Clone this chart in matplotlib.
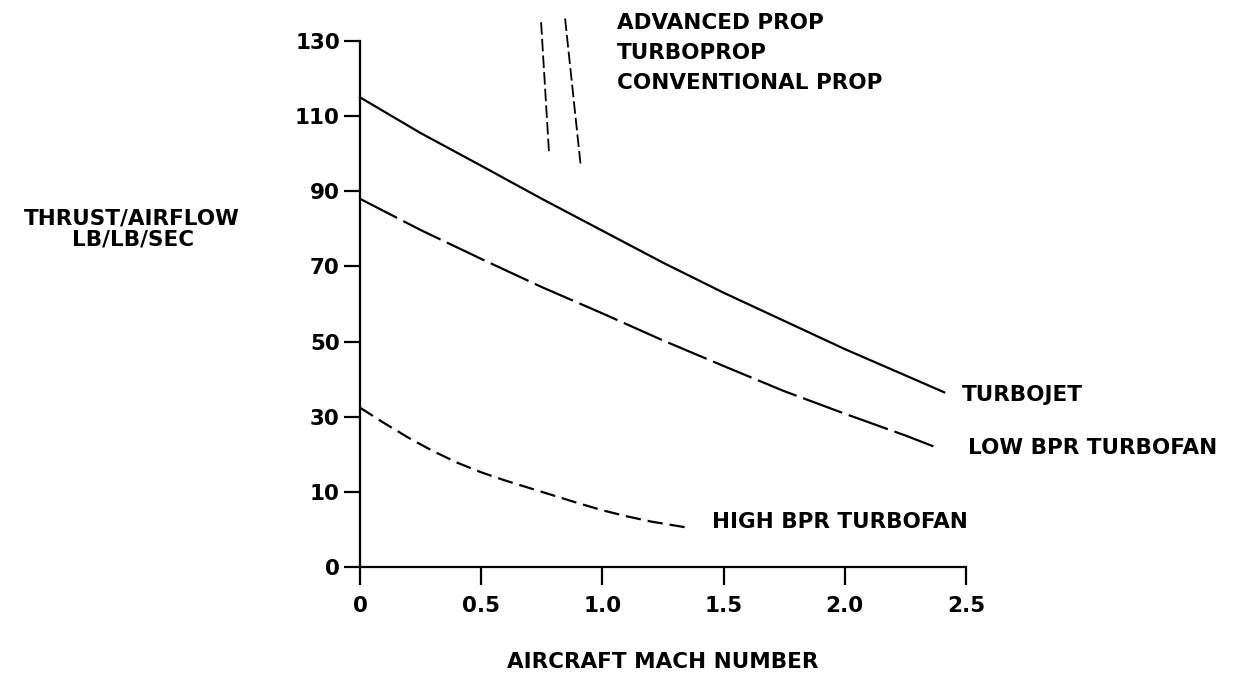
import matplotlib
matplotlib.use("Agg")
import matplotlib.pyplot as plt
import numpy as np

# Valores (empuxo / vazão de ar, lb/lb/s) vs número de Mach
mach_turbojet = [0.0, 0.25, 0.5, 0.75, 1.0, 1.25, 1.5, 1.75, 2.0, 2.25, 2.41]
thrust_turbojet = [115, 105.5, 96.8, 88, 79.5, 71, 63, 55.5, 48, 41, 36.5]

mach_low_bpr = [0.0, 0.25, 0.5, 0.75, 1.0, 1.25, 1.5, 1.75, 2.0, 2.25, 2.37]
thrust_low_bpr = [88, 79.7, 72, 64.5, 57.5, 50.3, 43.5, 36.8, 30.8, 25, 22]

mach_high_bpr = [0.0, 0.1, 0.2, 0.3, 0.4, 0.5, 0.6, 0.7, 0.8, 0.9, 1.0,
                 1.1, 1.2, 1.34]
thrust_high_bpr = [32.4, 28.3, 24.4, 20.9, 17.8, 15.2, 13.0, 11.0, 9.5, 8.5,
                   7.55, 6.75, 6.05, 5.3]

# Linhas verticais tracejadas dos hélices
mach_prop1 = [0.747, 0.78]
thrust_prop1 = [135, 100]
mach_prop2 = [0.846, 0.911]
thrust_prop2 = [136, 96.5]

y_ticks = [0, 10, 30, 50, 70, 90, 110, 130]
x_ticks = [0, 0.5, 1.0, 1.5, 2.0, 2.5]
x_tick_labels = ["0", "0.5", "1.0", "1.5", "2.0", "2.5"]


# Eixo y não linear: 0-10 ocupa o mesmo espaço que 10-30
def fwd(v):
    v = np.asarray(v, dtype=float)
    return np.where(v < 10, v / 10.0, 1 + (v - 10) / 20.0)


def inv(p):
    p = np.asarray(p, dtype=float)
    return np.where(p < 1, p * 10.0, 10 + (p - 1) * 20.0)


plt.rcParams["font.family"] = "DejaVu Sans"
plt.rcParams["font.weight"] = "bold"
plt.rcParams["lines.scale_dashes"] = False

FS = 15.5
W, H = 1256, 688
fig = plt.figure(figsize=(W / 100, H / 100), dpi=100)
ax = fig.add_axes([360 / W, 1 - 567 / H, (966 - 360) / W, (567 - 41) / H])

ax.set_yscale("function", functions=(fwd, inv))
ax.set_xlim(0, 2.5)
ax.set_ylim(0, 130)

lw = 1.6
ax.plot(mach_turbojet, thrust_turbojet, color="black", lw=lw, clip_on=False)
ax.plot(mach_low_bpr, thrust_low_bpr, color="black", lw=lw,
        dashes=(30, 5), clip_on=False)
ax.plot(mach_high_bpr, thrust_high_bpr, color="black", lw=lw,
        dashes=(11, 5), clip_on=False)
ax.plot(mach_prop1, thrust_prop1, color="black", lw=1.3,
        dashes=(9, 3), clip_on=False)
ax.plot(mach_prop2, thrust_prop2, color="black", lw=1.3,
        dashes=(9, 3), clip_on=False)

ax.spines["top"].set_visible(False)
ax.spines["right"].set_visible(False)
ax.spines["left"].set_linewidth(1.6)
ax.spines["bottom"].set_linewidth(1.6)

ax.set_yticks(y_ticks)
ax.set_yticklabels([str(t) for t in y_ticks])
ax.set_xticks(x_ticks)
ax.set_xticklabels(x_tick_labels)
ax.yaxis.set_minor_locator(matplotlib.ticker.NullLocator())
ax.tick_params(axis="y", direction="out", length=11.5, width=1.6,
               labelsize=FS, pad=3)
ax.tick_params(axis="x", direction="out", length=13, width=1.6,
               labelsize=FS, pad=8)

ax.set_xlabel("AIRCRAFT MACH NUMBER", fontsize=FS, fontweight="bold",
              labelpad=26)


def fig_text(x, y, s, **kw):
    fig.text(x / W, 1 - y / H, s, fontsize=FS, va="center", **kw)


fig_text(132, 218, "THRUST/AIRFLOW", ha="center")
fig_text(133, 239, "LB/LB/SEC", ha="center")
fig_text(617, 23, "ADVANCED PROP", ha="left")
fig_text(617, 53, "TURBOPROP", ha="left")
fig_text(617, 83, "CONVENTIONAL PROP", ha="left")
fig_text(962, 395, "TURBOJET", ha="left")
fig_text(968, 448, "LOW BPR TURBOFAN", ha="left")
fig_text(712, 522, "HIGH BPR TURBOFAN", ha="left")

fig.savefig("out.png", dpi=100, facecolor="white")
